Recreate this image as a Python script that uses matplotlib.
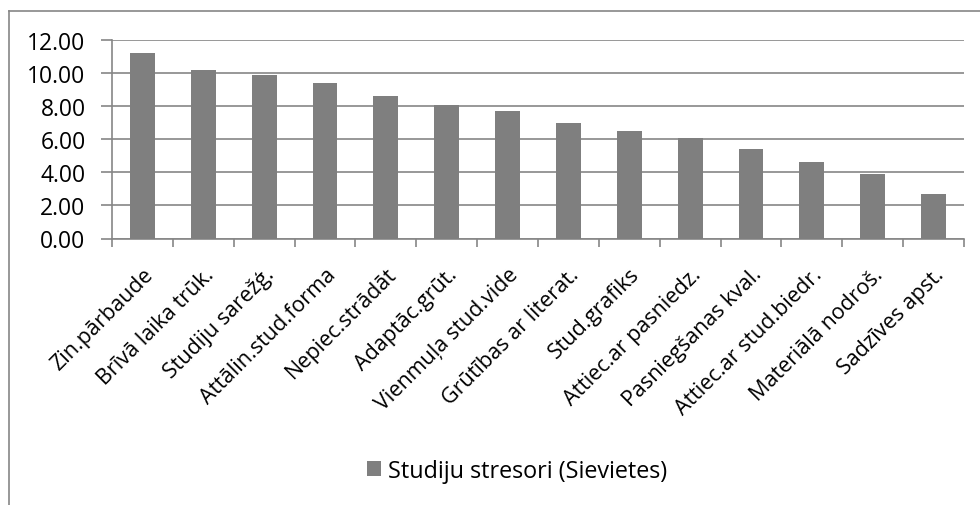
import matplotlib
matplotlib.use("Agg")
import matplotlib.pyplot as plt
from matplotlib.lines import Line2D
import numpy as np

categories = ["Zin.pārbaude", "Brīvā laika trūk.", "Studiju sarežģ.", "Attālin.stud.forma",
              "Nepiec.strādāt", "Adaptāc.grūt.", "Vienmuļa stud.vide", "Grūtības ar literat.",
              "Stud.grafiks", "Attiec.ar pasniedz.", "Pasniegšanas kval.", "Attiec.ar stud.biedr.",
              "Materiālā nodroš.", "Sadzīves apst."]
values = [11.2, 10.2, 9.9, 9.4, 8.6, 8.1, 7.7, 7.0, 6.5, 6.1, 5.4, 4.6, 3.9, 2.7]
series_name = "Studiju stresori (Sievietes)"
yticks = [0, 2, 4, 6, 8, 10, 12]

plt.rcParams['font.family'] = ['Open Sans', 'DejaVu Sans']

fig = plt.figure(figsize=(9.8, 5.06), dpi=100)
ax = fig.add_axes([112/980, 1-239.5/506, (964-112)/980, (239.5-41)/506])

x = np.arange(len(categories))
ax.bar(x, values, width=0.41, color='#7f7f7f', zorder=3, label=series_name)
ax.set_xlim(-0.5, len(categories)-0.5)
ax.set_ylim(0, 12)
ax.set_yticks(yticks)
ax.set_yticklabels([f"{v:.2f}" for v in yticks], fontsize=16.5)
ax.grid(axis='y', color='#868686', linewidth=1.2, zorder=0)
ax.tick_params(axis='y', length=8, color='#868686', width=1.2, pad=11)
for s in ['right', 'top']:
    ax.spines[s].set_visible(False)
for s in ['bottom', 'left']:
    ax.spines[s].set_color('#868686')
    ax.spines[s].set_linewidth(1.2)

ax.set_xticks(np.arange(-0.5, len(categories), 1.0), minor=False)
ax.set_xticklabels([])
ax.tick_params(axis='x', which='major', length=6, color='#868686', width=1.2)
ax.set_xticks(x, minor=True)
ax.set_xticklabels(categories, minor=True, rotation=45, ha='right', rotation_mode='anchor', fontsize=15.5)
ax.tick_params(axis='x', which='minor', length=0, pad=18)

leg = fig.legend(loc='center', bbox_to_anchor=(517/980, 1-472/506), frameon=False, fontsize=16.8,
                 handlelength=0.6, handleheight=0.6, handletextpad=0.3)

fig.add_artist(Line2D([9/980, 9/980], [0, 1-12/506], transform=fig.transFigure,
                      color='#868686', linewidth=1.2))
fig.add_artist(Line2D([9/980, 1], [1-12/506, 1-12/506], transform=fig.transFigure,
                      color='#868686', linewidth=1.2))

fig.savefig("out.png", dpi=100)
